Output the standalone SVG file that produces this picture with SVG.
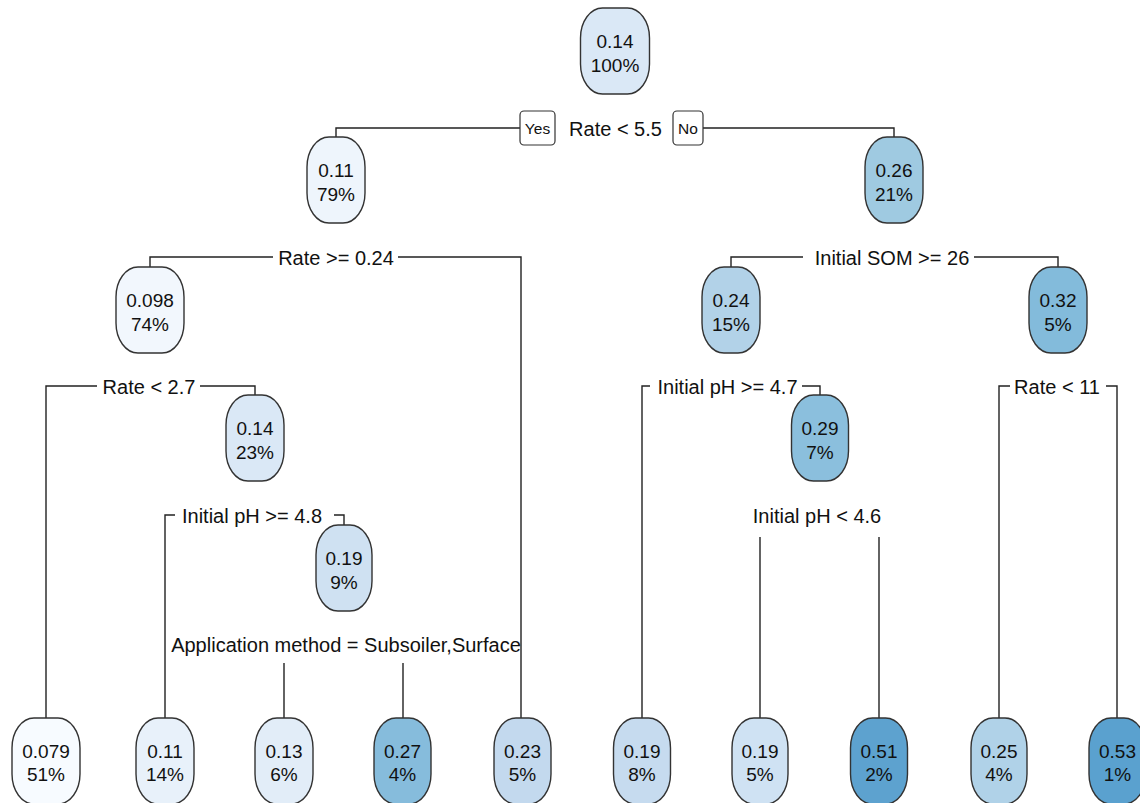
<svg xmlns="http://www.w3.org/2000/svg" width="1140" height="803" viewBox="0 0 1140 803">
<style>
.node rect{stroke:#333;stroke-width:1.4}
.node text{font-family:"Liberation Sans",Arial,sans-serif;font-size:19px;text-anchor:middle;fill:#111}
.lbl{font-family:"Liberation Sans",Arial,sans-serif;font-size:20px;text-anchor:middle;fill:#111}
.yn rect{fill:#fff;stroke:#333;stroke-width:1.2}
.yn text{font-family:"Liberation Sans",Arial,sans-serif;font-size:15.5px;text-anchor:middle;fill:#111}
.conn path{fill:none;stroke:#222;stroke-width:1.4}
</style>
<rect width="1140" height="803" fill="#fff"/>
<g id="connectors" class="conn">
<path d="M520,128 H336 V137"/>
<path d="M703,128 H894 V137"/>
<path d="M150,267 V257 H273"/>
<path d="M398,257 H521 V718"/>
<path d="M731,267 V257 H803"/>
<path d="M974,257 H1058 V267"/>
<path d="M46,718 V386 H97"/>
<path d="M200,386 H255 V395"/>
<path d="M642,718 V386 H650"/>
<path d="M802,386 H820 V395"/>
<path d="M999,718 V386 H1010"/>
<path d="M1106,386 H1117 V718"/>
<path d="M165,718 V515 H175"/>
<path d="M334,515 H344 V525"/>
<path d="M284,663 V718"/>
<path d="M403,663 V718"/>
<path d="M760,537 V718"/>
<path d="M879,537 V718"/>
</g>
<g id="labels">
<g class="yn"><rect x="520" y="111" width="35" height="34" rx="4"/><text x="537.5" y="133.5">Yes</text></g>
<g class="yn"><rect x="673" y="111" width="30" height="34" rx="4"/><text x="688" y="133.5">No</text></g>
<text class="lbl" x="615.5" y="135.5">Rate &lt; 5.5</text>
<text class="lbl" x="336" y="264.5">Rate &gt;= 0.24</text>
<text class="lbl" x="892" y="264.5">Initial SOM &gt;= 26</text>
<text class="lbl" x="149" y="393.5">Rate &lt; 2.7</text>
<text class="lbl" x="727.5" y="393.5">Initial pH &gt;= 4.7</text>
<text class="lbl" x="1057" y="393.5">Rate &lt; 11</text>
<text class="lbl" x="252" y="522.5">Initial pH &gt;= 4.8</text>
<text class="lbl" x="817" y="522.5">Initial pH &lt; 4.6</text>
<text class="lbl" x="346" y="651.5">Application method = Subsoiler,Surface</text>
</g>
<g id="n1" class="node"><rect x="580.5" y="8" width="69" height="86" rx="22" ry="30" fill="#dae8f6"/><text x="615" y="48">0.14</text><text x="615" y="71.5">100%</text></g>
<g id="n2" class="node"><rect x="307" y="137" width="58" height="86" rx="22" ry="30" fill="#eef5fc"/><text x="336" y="177">0.11</text><text x="336" y="200.5">79%</text></g>
<g id="n3" class="node"><rect x="865" y="137" width="58" height="86" rx="22" ry="30" fill="#9fcae1"/><text x="894" y="177">0.26</text><text x="894" y="200.5">21%</text></g>
<g id="n4" class="node"><rect x="116" y="267" width="68" height="86" rx="22" ry="30" fill="#f2f7fd"/><text x="150" y="307">0.098</text><text x="150" y="330.5">74%</text></g>
<g id="n5" class="node"><rect x="702" y="267" width="58" height="86" rx="22" ry="30" fill="#b2d2e8"/><text x="731" y="307">0.24</text><text x="731" y="330.5">15%</text></g>
<g id="n6" class="node"><rect x="1029" y="267" width="58" height="86" rx="22" ry="30" fill="#83bbdb"/><text x="1058" y="307">0.32</text><text x="1058" y="330.5">5%</text></g>
<g id="n7" class="node"><rect x="226" y="395" width="58" height="86" rx="22" ry="30" fill="#dae8f6"/><text x="255" y="435">0.14</text><text x="255" y="458.5">23%</text></g>
<g id="n8" class="node"><rect x="791.5" y="395" width="57" height="86" rx="22" ry="30" fill="#8bbfdd"/><text x="820" y="435">0.29</text><text x="820" y="458.5">7%</text></g>
<g id="n9" class="node"><rect x="316" y="525" width="56" height="86" rx="22" ry="30" fill="#cfe1f2"/><text x="344" y="565">0.19</text><text x="344" y="588.5">9%</text></g>
<g id="leaf1" class="node"><rect x="12" y="718" width="68" height="86" rx="22" ry="30" fill="#f7fbff"/><text x="46" y="757.5">0.079</text><text x="46" y="781">51%</text></g>
<g id="leaf2" class="node"><rect x="136" y="718" width="58" height="86" rx="22" ry="30" fill="#e8f1fa"/><text x="165" y="757.5">0.11</text><text x="165" y="781">14%</text></g>
<g id="leaf3" class="node"><rect x="255" y="718" width="58" height="86" rx="22" ry="30" fill="#e2edf8"/><text x="284" y="757.5">0.13</text><text x="284" y="781">6%</text></g>
<g id="leaf4" class="node"><rect x="374" y="718" width="57" height="86" rx="22" ry="30" fill="#86bcdc"/><text x="402.5" y="757.5">0.27</text><text x="402.5" y="781">4%</text></g>
<g id="leaf5" class="node"><rect x="494" y="718" width="57" height="86" rx="22" ry="30" fill="#c3d9ee"/><text x="522.5" y="757.5">0.23</text><text x="522.5" y="781">5%</text></g>
<g id="leaf6" class="node"><rect x="613.5" y="718" width="57" height="86" rx="22" ry="30" fill="#c6dbef"/><text x="642" y="757.5">0.19</text><text x="642" y="781">8%</text></g>
<g id="leaf7" class="node"><rect x="732" y="718" width="56" height="86" rx="22" ry="30" fill="#cfe2f3"/><text x="760" y="757.5">0.19</text><text x="760" y="781">5%</text></g>
<g id="leaf8" class="node"><rect x="850.5" y="718" width="57" height="86" rx="22" ry="30" fill="#5da2cf"/><text x="879" y="757.5">0.51</text><text x="879" y="781">2%</text></g>
<g id="leaf9" class="node"><rect x="971" y="718" width="56" height="86" rx="22" ry="30" fill="#b0d2e8"/><text x="999" y="757.5">0.25</text><text x="999" y="781">4%</text></g>
<g id="leaf10" class="node"><rect x="1089" y="718" width="57" height="86" rx="22" ry="30" fill="#5aa1cf"/><text x="1117.5" y="757.5">0.53</text><text x="1117.5" y="781">1%</text></g>
</svg>
